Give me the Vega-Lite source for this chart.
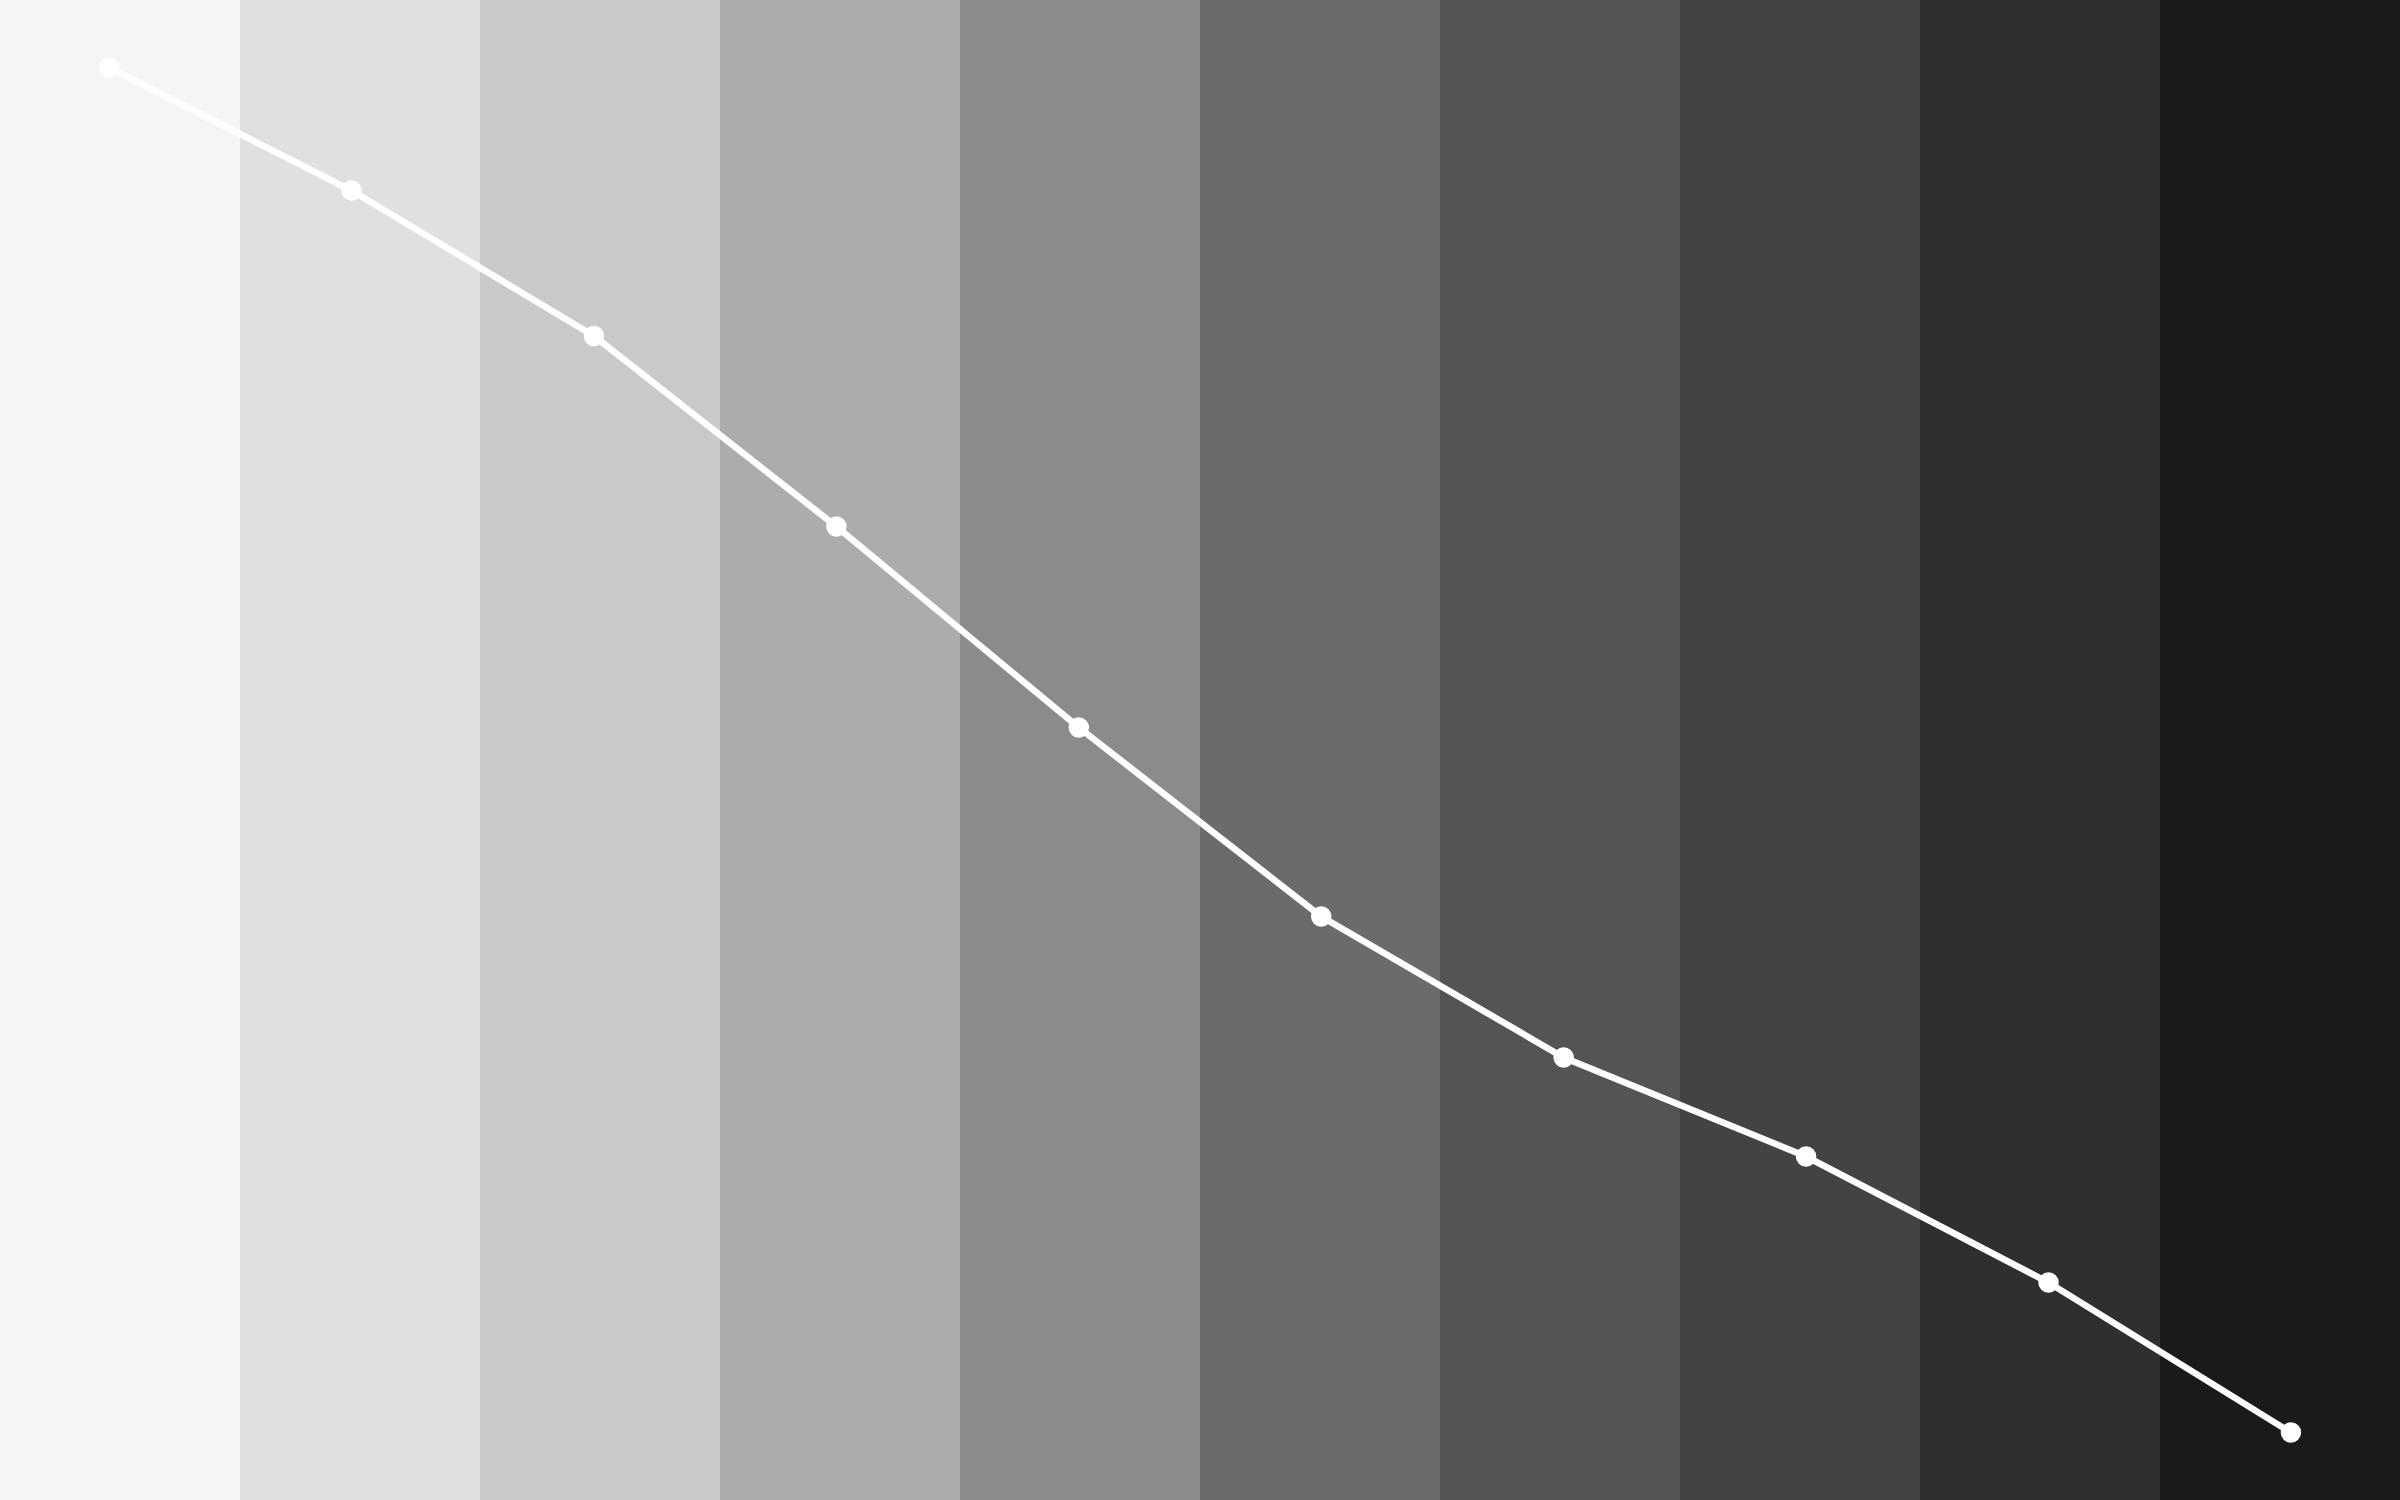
{
  "$schema": "https://vega.github.io/schema/vega-lite/v6.json",
  "autosize": {"type": "fit", "contains": "padding"},
  "width": 2400,
  "height": 1500,
  "padding": 0,
  "config": {"background": "white", "view": {"stroke": null}},
  "data": {
    "values": [
      {"step": 1, "value": 95.5},
      {"step": 2, "value": 87.3},
      {"step": 3, "value": 77.6},
      {"step": 4, "value": 64.9},
      {"step": 5, "value": 51.5},
      {"step": 6, "value": 38.9},
      {"step": 7, "value": 29.5},
      {"step": 8, "value": 22.9},
      {"step": 9, "value": 14.5},
      {"step": 10, "value": 4.5}
    ]
  },
  "layer": [
    {
      "mark": {"type": "bar", "strokeWidth": 0},
      "encoding": {
        "x": {
          "field": "step",
          "type": "ordinal",
          "scale": {"paddingInner": 0, "paddingOuter": 0},
          "axis": null
        },
        "color": {
          "field": "step",
          "type": "ordinal",
          "scale": {
            "range": ["#f5f5f5", "#e0e0e0", "#c9c9c9", "#acacac", "#8b8b8b", "#6b6b6b", "#545454", "#434343", "#2f2f2f", "#1a1a1a"]
          },
          "legend": null
        }
      }
    },
    {
      "mark": {
        "type": "line",
        "color": "white",
        "strokeWidth": 6.5,
        "point": {"filled": true, "fill": "white", "size": 420}
      },
      "encoding": {
        "x": {
          "field": "step",
          "type": "ordinal",
          "scale": {"type": "point", "padding": 0.45},
          "axis": null
        },
        "y": {
          "field": "value",
          "type": "quantitative",
          "scale": {"domain": [0, 100]},
          "axis": null
        }
      }
    }
  ],
  "resolve": {"scale": {"x": "independent"}}
}
